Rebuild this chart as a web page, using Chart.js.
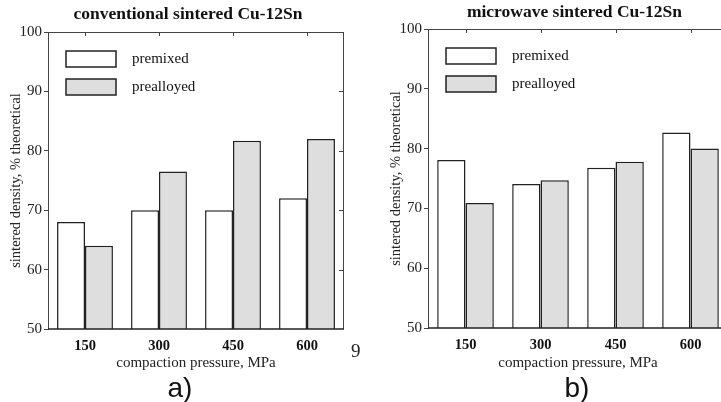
<!DOCTYPE html>
<html>
<head>
<meta charset="utf-8">
<script src="https://cdn.jsdelivr.net/npm/chart.js@4/dist/chart.umd.min.js"></script>
<style>
  body { margin: 0; background: #fff; width: 721px; height: 402px; overflow: hidden; position: relative; }
  canvas { position: absolute; top: 0; }
  .lbl { position: absolute; font-family: "Liberation Sans", Arial, sans-serif; font-size: 28px; line-height: 28px; width: 40px; text-align: center; color: #111; }
  .stray { position: absolute; font-family: "Liberation Serif", "Times New Roman", serif; font-size: 19px; line-height: 19px; color: #222; }
</style>
</head>
<body>
<canvas id="chartA" width="376" height="375" style="left:0px"></canvas>
<canvas id="chartB" width="376" height="375" style="left:380px"></canvas>
<div class="lbl" style="left:160px; top:374px">a)</div>
<div class="lbl" style="left:557px; top:374px">b)</div>
<div class="stray" style="left:351px; top:341px">9</div>
<script>
// data
var pressures = ['150', '300', '450', '600'];
var convPremixed = [68, 70, 70, 72];
var convPrealloyed = [64, 76.5, 81.7, 82];
var microPremixed = [78.1, 74.1, 76.8, 82.7];
var microPrealloyed = [70.9, 74.7, 77.8, 80];
var densityTicks = [50, 60, 70, 80, 90, 100];

var serif = '"Liberation Serif", "Times New Roman", serif';
var frameColor = '#444';

// frame, inward ticks, title and legend drawn on top of the chart
var panelDecor = {
    id: 'panelDecor',
    afterDraw: function (chart, args, opts) {
        var ctx = chart.ctx;
        var a = chart.chartArea;
        var xs = chart.scales.x, ys = chart.scales.y;
        ctx.save();
        ctx.strokeStyle = frameColor;
        ctx.lineWidth = 1;
        ctx.beginPath();
        ctx.moveTo(a.left, a.top + 0.5); ctx.lineTo(a.right, a.top + 0.5);
        ctx.moveTo(a.right - 0.5, a.top); ctx.lineTo(a.right - 0.5, a.bottom);
        // inward ticks on top at category centres
        xs.ticks.forEach(function (t, i) {
            var x = Math.round(xs.getPixelForTick(i)) + 0.5;
            ctx.moveTo(x, a.top); ctx.lineTo(x, a.top + 4);
        });
        // inward ticks on the right
        ys.ticks.forEach(function (t, i) {
            if (t.value <= 50 || t.value >= 100) return;
            var y = Math.round(ys.getPixelForValue(t.value)) + 0.5;
            ctx.moveTo(a.right, y); ctx.lineTo(a.right - 5, y);
        });
        ctx.stroke();
        // bottom axis line
        ctx.strokeStyle = '#222';
        ctx.lineWidth = 1.5;
        ctx.beginPath();
        ctx.moveTo(a.left, a.bottom); ctx.lineTo(a.right, a.bottom);
        ctx.stroke();

        // title
        ctx.fillStyle = '#111';
        ctx.font = 'bold 17.5px ' + serif;
        ctx.textAlign = 'center';
        ctx.textBaseline = 'middle';
        ctx.fillText(opts.text, opts.titleX, opts.titleY);

        // legend inside the plot
        ctx.font = '15px ' + serif;
        ctx.textAlign = 'left';
        chart.data.datasets.forEach(function (ds, i) {
            var bx = a.left + 18, by = a.top + 19 + i * 28;
            ctx.fillStyle = ds.backgroundColor;
            ctx.fillRect(bx, by, 50, 16);
            ctx.strokeStyle = ds.borderColor;
            ctx.lineWidth = 1.5;
            ctx.strokeRect(bx, by, 50, 16);
            ctx.fillStyle = '#111';
            ctx.fillText(ds.label, bx + 66, by + 8);
        });
        ctx.restore();
    }
};

function makePanel(id, title, premixed, prealloyed, top, right, bottom, titleX, titleY) {
    var ctx = document.getElementById(id).getContext('2d');
    return new Chart(ctx, {
        type: 'bar',
        data: {
            labels: pressures,
            datasets: [
                { label: 'premixed', data: premixed, backgroundColor: '#ffffff', borderColor: '#222', borderWidth: 1.5 },
                { label: 'prealloyed', data: prealloyed, backgroundColor: '#dedede', borderColor: '#222', borderWidth: 1.5 }
            ]
        },
        options: {
            responsive: false,
            animation: false,
            devicePixelRatio: 1,
            layout: { padding: { top: top, right: right, left: 0, bottom: 0 } },
            categoryPercentage: 0.755,
            barPercentage: 1,
            plugins: {
                legend: { display: false },
                tooltip: { enabled: false },
                panelDecor: { text: title, titleX: titleX, titleY: titleY }
            },
            scales: {
                x: {
                    grid: { display: false, drawTicks: false },
                    border: { display: false },
                    ticks: { color: '#111', padding: 9, font: { family: serif, size: 14.5, weight: 'bold' } },
                    title: { display: true, text: 'compaction pressure, MPa', color: '#222', padding: { top: 0, bottom: 3.4 }, font: { family: serif, size: 15 } },
                    afterFit: function (s) { s.height = 375 - bottom; }
                },
                y: {
                    min: 50,
                    max: 100,
                    afterBuildTicks: function (s) { s.ticks = densityTicks.map(function (v) { return { value: v }; }); },
                    grid: { drawOnChartArea: false, drawTicks: true, tickLength: 4, color: frameColor },
                    border: { display: true, color: frameColor, width: 1 },
                    ticks: { color: '#222', padding: 2, font: { family: serif, size: 15 } },
                    title: { display: true, text: 'sintered density, % theoretical', color: '#222', padding: { top: 7, bottom: 0 }, font: { family: serif, size: 14.5 } },
                    afterFit: function (s) { s.width = 48; }
                }
            }
        },
        plugins: [panelDecor]
    });
}

makePanel('chartA', 'conventional sintered Cu-12Sn', convPremixed, convPrealloyed, 32, 32, 329, 188, 14);
makePanel('chartB', 'microwave sintered Cu-12Sn', microPremixed, microPrealloyed, 29, 28, 328, 194.5, 12);
</script>
</body>
</html>
